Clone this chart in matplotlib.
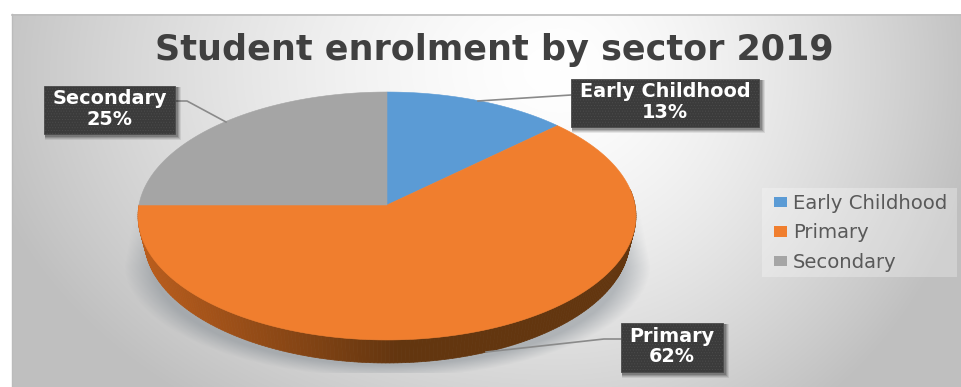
#!/usr/bin/env python3
"""Student enrolment by sector, 2019: tilted 3D-style pie with callout labels."""
import matplotlib
matplotlib.use("Agg")
import matplotlib.pyplot as plt
import numpy as np
from matplotlib.collections import PolyCollection
from matplotlib.patches import Patch, Polygon, Rectangle

TITLE = "Student enrolment by sector 2019"
SECTORS = ["Early Childhood", "Primary", "Secondary"]
SHARES = [13, 62, 25]
COLORS = ["#5B9BD5", "#F07E2E", "#A5A5A5"]

W, H = 962, 387
CX, CY = 387, 205
DEPTH = 23
RIM_SCALE = 0.975


def project(theta):
    # theta runs clockwise from 12 o'clock; the far side of the disc is foreshortened
    u, v = np.sin(theta), np.cos(theta)
    w = 1 + 0.0887 * v
    return CX + 248 * u / w, CY - 123 * v / w


def background(ax):
    yy, xx = np.mgrid[14:H, 12:W]
    dx = np.where(xx < 560, (xx - 560) / 560, (xx - 560) / 400)
    d = np.hypot(dx, (yy - 70) / 400)
    g = np.clip(1.0 - 0.23 * d ** 1.5, 0.75, 1.0)
    ax.imshow(np.dstack([g, g, g]), extent=(12, W, H, 14), aspect="auto", zorder=0)
    ax.plot([12, W], [14.5, 14.5], color="#BDBDBD", lw=1.2, zorder=0.5)
    ax.plot([12.5, 12.5], [14, H], color="#BBBBBB", lw=1, zorder=0.5)


def floor_shadow(ax):
    yy, xx = np.mgrid[185:373, 100:680]
    half = 249 + 14 * (yy - 190) / 75
    d = np.where(yy < 265, np.abs(xx - CX) / half,
                 np.hypot((xx - CX) / 263, (yy - 265) / 112))
    alpha = np.clip((1 - d) / 0.11, 0, 1) * np.clip((yy - 190) / 60, 0, 1) * 0.5
    img = np.zeros(alpha.shape + (4,))
    img[..., :3] = (0.50, 0.53, 0.56)
    img[..., 3] = alpha
    ax.imshow(img, extent=(100, 680, 373, 185), aspect="auto", zorder=1)


def pie_side(ax):
    theta = np.linspace(np.pi * 0.46, np.pi * 1.5, 220)
    x, y = project(theta)
    lx = CX + RIM_SCALE * (x - CX)
    ly = y + DEPTH
    quads = []
    shades = []
    light = np.array([0.72, 0.36, 0.11])
    dark = np.array([0.39, 0.21, 0.06])
    for i in range(len(theta) - 1):
        quads.append([(x[i], y[i]), (x[i + 1], y[i + 1]),
                      (lx[i + 1], ly[i + 1]), (lx[i], ly[i])])
        mix = np.clip((x[i] - 150) / 250, 0, 1)
        shades.append(light * (1 - mix) + dark * mix)
    ax.add_collection(PolyCollection(quads, facecolors=shades, edgecolors=shades,
                                     linewidths=0.5, zorder=2))


def pie_top(ax):
    edges = np.cumsum([0] + SHARES) / sum(SHARES) * 2 * np.pi
    for i, color in enumerate(COLORS):
        theta = np.linspace(edges[i], edges[i + 1], 160)
        x, y = project(theta)
        pts = np.column_stack([np.r_[CX, x], np.r_[CY, y]])
        ax.add_patch(Polygon(pts, closed=True, fc=color, ec=color, lw=0.4, zorder=3))


def callout(ax, box, text, leader):
    x0, y0, x1, y1 = box
    lx, ly = zip(*leader)
    ax.plot(lx, ly, color="#8A8A8A", lw=1.2, zorder=4)
    for off, a in ((5, 0.08), (4, 0.10), (3, 0.14), (2, 0.18)):
        ax.add_patch(Rectangle((x0 + 1, y0 + 1), x1 - x0 + off, y1 - y0 + off,
                               fc="black", ec="none", alpha=a, zorder=5))
    ax.add_patch(Rectangle((x0, y0), x1 - x0, y1 - y0, fc="#3B3B3B", ec="#4C4C4C",
                           hatch="......", lw=0.6, zorder=6))
    ax.text((x0 + x1) / 2, (y0 + y1) / 2 - 1, text, color="white", fontsize=13.9,
            fontweight="bold", ha="center", va="center", linespacing=1.12, zorder=7)


def main():
    plt.rcParams["hatch.linewidth"] = 0.4
    fig = plt.figure(figsize=(W / 100, H / 100), dpi=100)
    ax = fig.add_axes([0, 0, 1, 1])

    background(ax)
    floor_shadow(ax)
    pie_side(ax)
    pie_top(ax)

    ax.text(494, 60, TITLE, ha="center", va="baseline", fontsize=25.2,
            fontweight="bold", color="#404040", zorder=4)

    callout(ax, (44, 86, 175, 134), f"{SECTORS[2]}\n{SHARES[2]}%",
            [(175, 101), (187, 101), (226, 122)])
    callout(ax, (571, 79, 759, 127), f"{SECTORS[0]}\n{SHARES[0]}%",
            [(571, 95), (478, 101)])
    callout(ax, (621, 323, 723, 372), f"{SECTORS[1]}\n{SHARES[1]}%",
            [(621, 339), (604, 339), (486, 352)])

    ax.add_patch(Rectangle((762, 188), 195, 89, fc="white", ec="none", alpha=0.28, zorder=7))
    handles = [Patch(fc=c, ec="none", label=s) for c, s in zip(COLORS, SECTORS)]
    leg = ax.legend(handles=handles, loc="upper left", bbox_to_anchor=(762 / W, 1 - 182.5 / H),
                    bbox_transform=ax.transAxes, fontsize=14.1, labelcolor="#595959",
                    handlelength=0.68, handleheight=0.42, handletextpad=0.3,
                    labelspacing=0.52, borderpad=0.6, borderaxespad=0, frameon=False)
    leg.set_zorder(8)

    ax.set_xlim(0, W)
    ax.set_ylim(H, 0)
    ax.axis("off")
    fig.savefig("out.png", dpi=100, facecolor="white")
    plt.close(fig)


if __name__ == "__main__":
    main()
